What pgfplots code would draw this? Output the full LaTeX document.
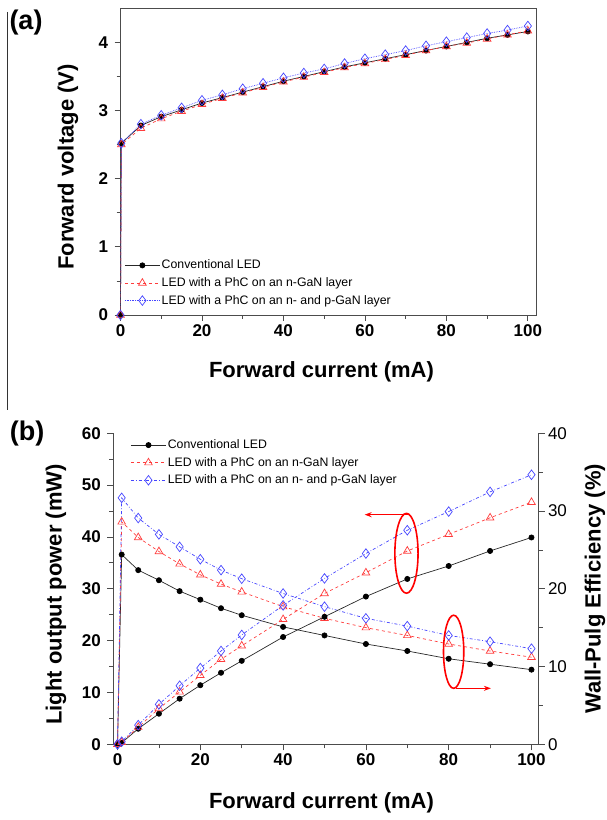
\documentclass[border=0pt]{standalone}
\usepackage{fontspec}
\setmainfont{Liberation Sans}
\usepackage{pgfplots}
\pgfplotsset{compat=1.18}
\usetikzlibrary{arrows.meta}

\definecolor{conv}{RGB}{40,40,40}
\definecolor{redl}{RGB}{255,60,60}
\definecolor{bluel}{RGB}{70,70,255}

\newcommand{\ticksize}{\fontsize{17bp}{20bp}\selectfont}
\newcommand{\labsize}{\fontsize{22bp}{26bp}\selectfont\bfseries}

\pgfplotsset{
  common/.style={
    scale only axis, anchor=south west,
    axis line style={black!70,line width=0.8bp},
    tick align=outside, major tick length=6bp, minor tick length=4bp,
    every tick/.style={black!70,line width=0.8bp},
    /pgf/number format/assume math mode=true,
    tick label style={font=\ticksize\bfseries},
    legend cell align=left,
    legend style={draw=none,fill=none,font=\fontsize{12.3bp}{15bp}\selectfont,
      nodes={inner sep=0pt,text height=10bp,text depth=3bp},
      row sep=4.6bp,
      /tikz/every odd column/.append style={column sep=1.5bp}},
    legend image code/.code={\draw[mark repeat=2,mark phase=2,##1] plot coordinates {(0bp,0bp) (17.5bp,0bp) (35bp,0bp)};},
  },
  sconv/.style={conv,line width=0.7bp,mark=*,mark size=2.6bp,mark options={solid,fill=black,draw=black}},
  sred/.style={redl,line width=0.7bp,dashed,mark=triangle,mark size=4.4bp,mark options={solid,fill=white}},
  sblue/.style={bluel,line width=0.7bp,mark=diamond,mark size=4.8bp,mark options={solid,fill=white}},
}

\begin{document}
\begin{tikzpicture}[x=1bp,y=1bp]
\useasboundingbox (0,0) rectangle (607,820);

% ---------- (a) ----------
\begin{axis}[common, at={(120.5bp,505bp)}, width=415.5bp, height=306.7bp,
  xmin=0, xmax=102, ymin=0, ymax=4.5,
  xtick={0,20,...,100}, ytick={0,1,2,3,4},
  minor x tick num=1, minor y tick num=1,
  xtick pos=bottom, ytick pos=left,
  yticklabel style={xshift=-3bp},
  legend style={at={(0.002,0.19)},anchor=north west}]
\addplot[sconv] coordinates {(0,0) (0.2,2.52) (5,2.78) (10,2.91) (15,3.01) (20,3.11) (25,3.19) (30,3.27) (35,3.35) (40,3.43) (45,3.50) (50,3.57) (55,3.64) (60,3.70) (65,3.76) (70,3.82) (75,3.88) (80,3.94) (85,4.00) (90,4.06) (95,4.11) (100,4.16)};
\addlegendentry{Conventional LED}
\addplot[sred] coordinates {(0,0) (0.2,2.50) (5,2.74) (10,2.88) (15,2.99) (20,3.09) (25,3.18) (30,3.26) (35,3.34) (40,3.42) (45,3.49) (50,3.56) (55,3.63) (60,3.69) (65,3.75) (70,3.81) (75,3.88) (80,3.94) (85,3.99) (90,4.05) (95,4.11) (100,4.17)};
\addlegendentry{LED with a PhC on an n-GaN layer}
\addplot[sblue,densely dotted] coordinates {(0,0) (0.2,2.52) (5,2.80) (10,2.93) (15,3.04) (20,3.15) (25,3.23) (30,3.32) (35,3.40) (40,3.48) (45,3.55) (50,3.61) (55,3.69) (60,3.76) (65,3.82) (70,3.88) (75,3.95) (80,4.01) (85,4.07) (90,4.13) (95,4.18) (100,4.24)};
\addlegendentry{LED with a PhC on an n- and p-GaN layer}
\end{axis}

% ---------- (b) right axis: wall-plug efficiency ----------
\begin{axis}[common, at={(113.4bp,75.7bp)}, width=425.1bp, height=311bp,
  xmin=-1, xmax=101.7, ymin=0, ymax=40,
  axis x line=none, axis y line*=right,
  ytick={0,10,20,30,40}, minor y tick num=1,
  yticklabel style={font=\ticksize}]
\addplot[sconv] coordinates {(0,0) (1,24.4) (5,22.4) (10,21.1) (15,19.7) (20,18.6) (25,17.5) (30,16.6) (40,15.1) (50,14.0) (60,12.9) (70,12.0) (80,11.0) (90,10.3) (100,9.6)};
\addplot[sred] coordinates {(0,0) (1,28.6) (5,26.6) (10,24.8) (15,23.2) (20,21.8) (25,20.6) (30,19.6) (40,17.7) (50,16.2) (60,15.0) (70,14.0) (80,12.9) (90,12.0) (100,11.2)};
\addplot[sblue,dash dot] coordinates {(0,0) (1,31.7) (5,29.1) (10,27.0) (15,25.4) (20,23.8) (25,22.4) (30,21.3) (40,19.4) (50,17.7) (60,16.2) (70,15.2) (80,14.0) (90,13.2) (100,12.3)};
\end{axis}

% ---------- (b) left axis: light output power ----------
\begin{axis}[common, at={(113.4bp,75.7bp)}, width=425.1bp, height=311bp,
  xmin=-1, xmax=101.7, ymin=0, ymax=60,
  axis y line*=left, axis x line*=bottom,
  xtick={0,20,...,100}, ytick={0,10,...,60},
  minor x tick num=1, minor y tick num=1,
  yticklabel style={xshift=-3bp},
  legend style={at={(0.033,0.99)},anchor=north west}]
\addplot[sconv] coordinates {(0,0) (1,0.3) (5,3.0) (10,5.9) (15,8.8) (20,11.4) (25,13.8) (30,16.1) (40,20.7) (50,24.6) (60,28.5) (70,31.9) (80,34.4) (90,37.3) (100,39.9)};
\addlegendentry{Conventional LED}
\addplot[sred] coordinates {(0,0) (1,0.4) (5,3.3) (10,6.9) (15,10.1) (20,13.3) (25,16.4) (30,19.0) (40,24.1) (50,29.1) (60,33.1) (70,37.3) (80,40.5) (90,43.7) (100,46.7)};
\addlegendentry{LED with a PhC on an n-GaN layer}
\addplot[sblue,dash dot] coordinates {(0,0) (1,0.5) (5,3.7) (10,7.7) (15,11.3) (20,14.7) (25,18.0) (30,21.1) (40,26.8) (50,32.0) (60,36.8) (70,41.3) (80,44.9) (90,48.7) (100,52.0)};
\addlegendentry{LED with a PhC on an n- and p-GaN layer}
\draw[red,line width=1.6bp] (axis cs:69.8,36.85) ellipse [x radius=2.8, y radius=7.7];
\draw[red,line width=1.6bp,-{Stealth[length=7bp,width=5bp]}] (axis cs:70.5,44.3) -- (axis cs:59.7,44.3);
\draw[red,line width=1.6bp] (axis cs:81.2,17.85) ellipse [x radius=2.45, y radius=7.05];
\draw[red,line width=1.6bp,-{Stealth[length=7bp,width=5bp]}] (axis cs:81.7,10.8) -- (axis cs:90.2,10.8);
\end{axis}

% ---------- texts ----------
\node[font=\fontsize{27bp}{30bp}\selectfont\bfseries] at (26,797) {(a)};
\node[font=\fontsize{27bp}{30bp}\selectfont\bfseries] at (27,386) {(b)};
\draw[black!80,line width=0.8bp] (7.5,808) -- (7.5,410);
\node[font=\labsize,rotate=90] at (68,653) {Forward voltage (V)};
\node[font=\labsize] at (321.5,448) {Forward current (mA)};
\node[font=\labsize] at (321.5,17) {Forward current (mA)};
\node[font=\labsize,rotate=90] at (56,225.5) {Light output power (mW)};
\node[font=\labsize,rotate=90] at (595,231) {Wall-Pulg Efficiency (\%)};
\end{tikzpicture}
\end{document}
